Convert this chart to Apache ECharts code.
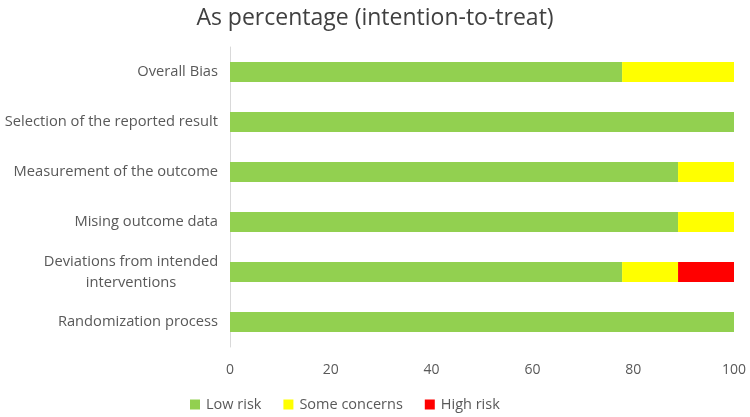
<!DOCTYPE html>
<html><head><meta charset="utf-8">
<script src="https://cdn.jsdelivr.net/npm/echarts@6/dist/echarts.min.js"></script>
<style>html,body{margin:0;padding:0;background:#fff}#c{width:750px;height:417px}</style>
</head><body><div id="c"></div>
<script>
var categories = ["Randomization process", "Deviations from intended\ninterventions", "Mising outcome data", "Measurement of the outcome", "Selection of the reported result", "Overall Bias"];
var lowRisk = [100, 77.8, 88.9, 88.9, 100, 77.8];
var someConcerns = [0, 11.1, 11.1, 11.1, 0, 22.2];
var highRisk = [0, 11.1, 0, 0, 0, 0];
var xTicks = [0, 20, 40, 60, 80, 100];
var seriesNames = ["Low risk", "Some concerns", "High risk"];
var colors = ["#92d050", "#ffff00", "#ff0000"];

var chart = echarts.init(document.getElementById('c'));
var font = "'Open Sans', sans-serif";
function mk(name, data, color) {
  return { name: name, type: 'bar', stack: 'total', data: data, barWidth: 20,
    itemStyle: { color: color }, emphasis: { disabled: true } };
}
chart.setOption({
  animation: false,
  title: { text: 'As percentage (intention-to-treat)', left: 'center', top: 2,
    textStyle: { fontFamily: font, fontSize: 23, fontWeight: 'normal', color: '#404040' } },
  legend: { left: 185, top: 392, itemWidth: 10, itemHeight: 10, itemGap: 22,
    data: seriesNames, icon: 'rect',
    textStyle: { fontFamily: font, fontSize: 14.5, color: '#595959', padding: [0, 0, 0, 1] } },
  grid: { left: 230, right: 16, top: 47, bottom: 70, containLabel: false },
  xAxis: { type: 'value', min: xTicks[0], max: xTicks[xTicks.length - 1], interval: 20,
    axisLine: { show: false }, axisTick: { show: false }, splitLine: { show: false },
    axisLabel: { fontFamily: font, fontSize: 14, color: '#595959', margin: 16 } },
  yAxis: { type: 'category', data: categories,
    axisLine: { show: true, lineStyle: { color: '#d9d9d9', width: 1 } },
    axisTick: { show: false },
    axisLabel: { fontFamily: font, fontSize: 14.7, color: '#595959', margin: 12, lineHeight: 21,
      formatter: function (v) {
        if (v.indexOf('\n') >= 0) {
          return v.split('\n').map(function (s) { return '{c|' + s + '}'; }).join('\n');
        }
        return v;
      },
      rich: { c: { width: 174, align: 'center', fontFamily: font, fontSize: 14.7, color: '#595959', lineHeight: 21 } } } },
  series: [mk(seriesNames[0], lowRisk, colors[0]), mk(seriesNames[1], someConcerns, colors[1]), mk(seriesNames[2], highRisk, colors[2])]
});
</script></body></html>
